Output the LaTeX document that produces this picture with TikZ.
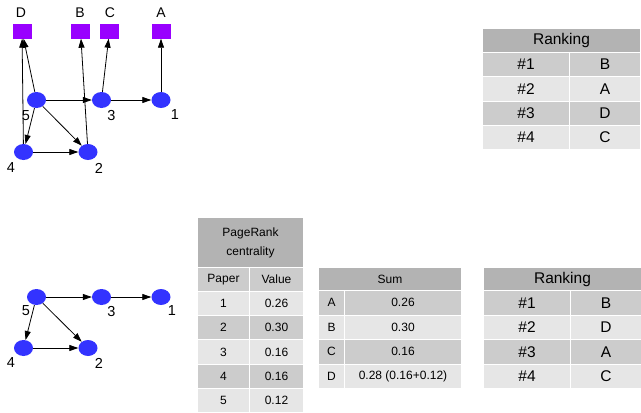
\documentclass[tikz,border=0pt]{standalone}
\usepackage{fontspec}
\setmainfont{Liberation Sans}
\usetikzlibrary{shapes.geometric,arrows.meta}
\definecolor{paperblue}{RGB}{51,51,255}
\definecolor{authpurple}{RGB}{153,0,255}
\definecolor{headgray}{RGB}{179,179,179}
\definecolor{darkrow}{RGB}{204,204,204}
\definecolor{lightrow}{RGB}{230,230,230}

\begin{document}
\begin{tikzpicture}[x=1pt, y=-1pt,
	paper/.style={shape=ellipse, fill=paperblue, minimum width=19pt, minimum height=16pt, inner sep=0pt},
	author/.style={shape=rectangle, fill=authpurple, minimum width=19pt, minimum height=15pt, inner sep=0pt},
	letter/.style={inner sep=0pt, font=\fontsize{14}{16}\selectfont},
	number/.style={inner sep=0pt, font=\fontsize{14.5}{16}\selectfont},
	link/.style={-{Triangle[length=9pt,width=6pt]}, line width=0.8pt},
	cell/.style={anchor=north west, draw=white, line width=1pt, inner sep=0pt},
	rankfont/.style={font=\fontsize{15.5}{17}\selectfont},
	prfont/.style={font=\fontsize{12}{19}\selectfont},
	sumfont/.style={font=\fontsize{12}{14}\selectfont}
]
	\useasboundingbox (0,0) rectangle (641,413);

	% citation graph with authors
	\node[author] (aD) at (22, 31)    {};
	\node[author] (aB) at (80.5, 31)  {};
	\node[author] (aC) at (109.5, 31) {};
	\node[author] (aA) at (161, 31)   {};
	\node[letter] (tD) at (21, 12.5)  {D};
	\node[letter] (tB) at (80, 12.5)  {B};
	\node[letter] (tC) at (110, 12.5) {C};
	\node[letter] (tA) at (161, 12.5) {A};

	\node[paper] (p5) at (36.5, 100)  {};
	\node[paper] (p3) at (101.5, 100) {};
	\node[paper] (p1) at (161, 100)   {};
	\node[paper] (p4) at (23.5, 152)  {};
	\node[paper] (p2) at (88, 152)    {};
	\node[number] (n5) at (26, 115.5)   {5};
	\node[number] (n3) at (111.5, 115.5) {3};
	\node[number] (n1) at (175, 115)    {1};
	\node[number] (n4) at (11, 168)     {4};
	\node[number] (n2) at (99, 168)     {2};

	\path[link] (p5) edge (p3);
	\path[link] (p3) edge (p1);
	\path[link] (p5) edge (p4);
	\path[link] (p5) edge (p2);
	\path[link] (p4) edge (p2);
	\path[link] (p5) edge (aD);
	\path[link] (p4) edge (aD);
	\path[link] (p2) edge (aB);
	\path[link] (p3) edge (aC);
	\path[link] (p1) edge (aA);

	% citation graph alone
	\node[paper] (q5) at (36.5, 297)  {};
	\node[paper] (q3) at (101.5, 297) {};
	\node[paper] (q1) at (161, 297)   {};
	\node[paper] (q4) at (23.5, 348)  {};
	\node[paper] (q2) at (88, 348)    {};
	\node[number] (m5) at (26, 311)    {5};
	\node[number] (m3) at (111.5, 312) {3};
	\node[number] (m1) at (172, 311)   {1};
	\node[number] (m4) at (11, 363)    {4};
	\node[number] (m2) at (99, 363)    {2};

	\path[link] (q5) edge (q3);
	\path[link] (q3) edge (q1);
	\path[link] (q5) edge (q4);
	\path[link] (q5) edge (q2);
	\path[link] (q4) edge (q2);

	% ranking of authors, top
	\node[cell, rankfont, fill=headgray, minimum width=158pt, minimum height=24pt] (rkA) at (482, 28) {Ranking};
	\node[cell, rankfont, fill=darkrow, minimum width=87pt, minimum height=24.3pt]  (rkA1) at (482, 52)    {\#1};
	\node[cell, rankfont, fill=darkrow, minimum width=71pt, minimum height=24.3pt]  (rkA1v) at (569, 52)   {B};
	\node[cell, rankfont, fill=lightrow, minimum width=87pt, minimum height=24.3pt] (rkA2) at (482, 76.3)  {\#2};
	\node[cell, rankfont, fill=lightrow, minimum width=71pt, minimum height=24.3pt] (rkA2v) at (569, 76.3) {A};
	\node[cell, rankfont, fill=darkrow, minimum width=87pt, minimum height=24.3pt]  (rkA3) at (482, 100.6)  {\#3};
	\node[cell, rankfont, fill=darkrow, minimum width=71pt, minimum height=24.3pt]  (rkA3v) at (569, 100.6) {D};
	\node[cell, rankfont, fill=lightrow, minimum width=87pt, minimum height=24.3pt] (rkA4) at (482, 124.9)  {\#4};
	\node[cell, rankfont, fill=lightrow, minimum width=71pt, minimum height=24.3pt] (rkA4v) at (569, 124.9) {C};

	% pagerank table
	\node[cell, prfont, fill=headgray, align=center, minimum width=106pt, minimum height=50pt] (pr) at (197, 217) {PageRank\\centrality};
	\node[cell, prfont, fill=darkrow, minimum width=52pt, minimum height=24pt] (prP) at (197, 267) {Paper};
	\node[cell, prfont, fill=darkrow, minimum width=54pt, minimum height=24pt] (prV) at (249, 267) {Value};
	\node[cell, prfont, fill=lightrow, minimum width=52pt, minimum height=24.2pt] (pr1) at (197, 291)   {1};
	\node[cell, prfont, fill=lightrow, minimum width=54pt, minimum height=24.2pt] (pr1v) at (249, 291)  {0.26};
	\node[cell, prfont, fill=darkrow, minimum width=52pt, minimum height=24.2pt]  (pr2) at (197, 315.2)  {2};
	\node[cell, prfont, fill=darkrow, minimum width=54pt, minimum height=24.2pt]  (pr2v) at (249, 315.2) {0.30};
	\node[cell, prfont, fill=lightrow, minimum width=52pt, minimum height=24.2pt] (pr3) at (197, 339.4)  {3};
	\node[cell, prfont, fill=lightrow, minimum width=54pt, minimum height=24.2pt] (pr3v) at (249, 339.4) {0.16};
	\node[cell, prfont, fill=darkrow, minimum width=52pt, minimum height=24.2pt]  (pr4) at (197, 363.6)  {4};
	\node[cell, prfont, fill=darkrow, minimum width=54pt, minimum height=24.2pt]  (pr4v) at (249, 363.6) {0.16};
	\node[cell, prfont, fill=lightrow, minimum width=52pt, minimum height=24.2pt] (pr5) at (197, 387.8)  {5};
	\node[cell, prfont, fill=lightrow, minimum width=54pt, minimum height=24.2pt] (pr5v) at (249, 387.8) {0.12};

	% sum per author
	\node[cell, sumfont, fill=headgray, minimum width=143pt, minimum height=23pt] (sm) at (318, 267) {Sum};
	\node[cell, sumfont, fill=darkrow, minimum width=26pt, minimum height=24.5pt]   (smA) at (318, 290)    {A};
	\node[cell, sumfont, fill=darkrow, minimum width=117pt, minimum height=24.5pt]  (smAv) at (344, 290)   {0.26};
	\node[cell, sumfont, fill=lightrow, minimum width=26pt, minimum height=24.5pt]  (smB) at (318, 314.5)  {B};
	\node[cell, sumfont, fill=lightrow, minimum width=117pt, minimum height=24.5pt] (smBv) at (344, 314.5) {0.30};
	\node[cell, sumfont, fill=darkrow, minimum width=26pt, minimum height=24.5pt]   (smC) at (318, 339)    {C};
	\node[cell, sumfont, fill=darkrow, minimum width=117pt, minimum height=24.5pt]  (smCv) at (344, 339)   {0.16};
	\node[cell, sumfont, fill=lightrow, minimum width=26pt, minimum height=24.5pt]  (smD) at (318, 363.5)  {D};
	\node[cell, sumfont, fill=lightrow, minimum width=117pt, minimum height=24.5pt] (smDv) at (344, 363.5) {0.28 (0.16+0.12)};

	% ranking of authors, bottom
	\node[cell, rankfont, fill=headgray, minimum width=158pt, minimum height=23pt] (rkB) at (483, 267) {Ranking};
	\node[cell, rankfont, fill=darkrow, minimum width=87pt, minimum height=24.5pt]  (rkB1) at (483, 290)    {\#1};
	\node[cell, rankfont, fill=darkrow, minimum width=71pt, minimum height=24.5pt]  (rkB1v) at (570, 290)   {B};
	\node[cell, rankfont, fill=lightrow, minimum width=87pt, minimum height=24.5pt] (rkB2) at (483, 314.5)  {\#2};
	\node[cell, rankfont, fill=lightrow, minimum width=71pt, minimum height=24.5pt] (rkB2v) at (570, 314.5) {D};
	\node[cell, rankfont, fill=darkrow, minimum width=87pt, minimum height=24.5pt]  (rkB3) at (483, 339)    {\#3};
	\node[cell, rankfont, fill=darkrow, minimum width=71pt, minimum height=24.5pt]  (rkB3v) at (570, 339)   {A};
	\node[cell, rankfont, fill=lightrow, minimum width=87pt, minimum height=24.5pt] (rkB4) at (483, 363.5)  {\#4};
	\node[cell, rankfont, fill=lightrow, minimum width=71pt, minimum height=24.5pt] (rkB4v) at (570, 363.5) {C};

\end{tikzpicture}
\end{document}
